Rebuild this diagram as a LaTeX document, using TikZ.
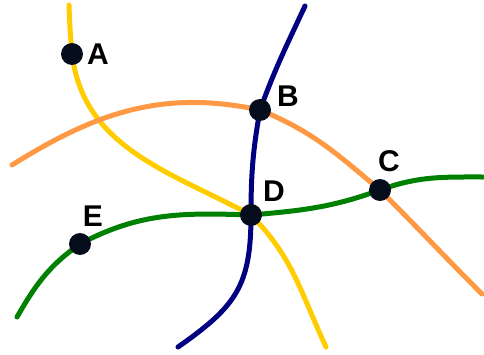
\documentclass[tikz,border=0pt]{standalone}
\usepackage{fontspec}
\setmainfont{Liberation Sans}
\usetikzlibrary{positioning}
\definecolor{lnyellow}{RGB}{255,204,0}
\definecolor{lnorange}{RGB}{255,153,68}
\definecolor{lnblue}{RGB}{0,0,128}
\definecolor{lngreen}{RGB}{0,128,0}
\definecolor{dotc}{RGB}{5,12,28}
\tikzset{dot/.style={circle,fill=dotc,inner sep=0pt,minimum size=22pt},
  lbl/.style={font=\fontsize{30}{32}\selectfont\bfseries,inner sep=0pt},
  line/.style={line width=5pt,line cap=round}}
\begin{document}
\begin{tikzpicture}[x=1pt,y=1pt]
\useasboundingbox (0,0) rectangle (484,354);
% points where the lines meet
\coordinate (A) at (72,300);
\coordinate (B) at (260,244);
\coordinate (C) at (380,164);
\coordinate (D) at (251,139);
\coordinate (E) at (80,110);
% free ends of the lines
\coordinate (y0) at (69,349); \coordinate (y1) at (326,7);
\coordinate (o0) at (12,189); \coordinate (o1) at (482,60);
\coordinate (b0) at (305,348); \coordinate (b1) at (178,7);
\coordinate (g0) at (17,37); \coordinate (g1) at (483,177);
\draw[line,lnyellow] (y0) to[out=-88,in=95] (A) to[out=-83,in=152] (D) to[out=-45,in=115] (y1);
\draw[line,lnorange] (o0) to[out=32,in=168] (B) to[out=-22,in=140] (C) to[out=-45,in=135] (o1);
\draw[line,lnblue] (b0) to[out=-115,in=70] (B) to[out=-100,in=90] (D) to[out=-90,in=35,looseness=1.2] (b1);
\draw[line,lngreen] (g0) to[out=60,in=-145] (E) to[out=28,in=178] (D) to[out=5,in=200] (C) to[out=20,in=180] (g1);
\foreach \n in {A,B,C,D,E} \node[dot] (dot\n) at (\n) {};
\node[lbl] (lblA) at (98,300) {A};
\node[lbl] (lblB) at (288,258) {B};
\node[lbl] (lblC) at (389,193) {C};
\node[lbl] (lblD) at (274,163) {D};
\node[lbl] (lblE) at (93,138) {E};
\end{tikzpicture}
\end{document}
